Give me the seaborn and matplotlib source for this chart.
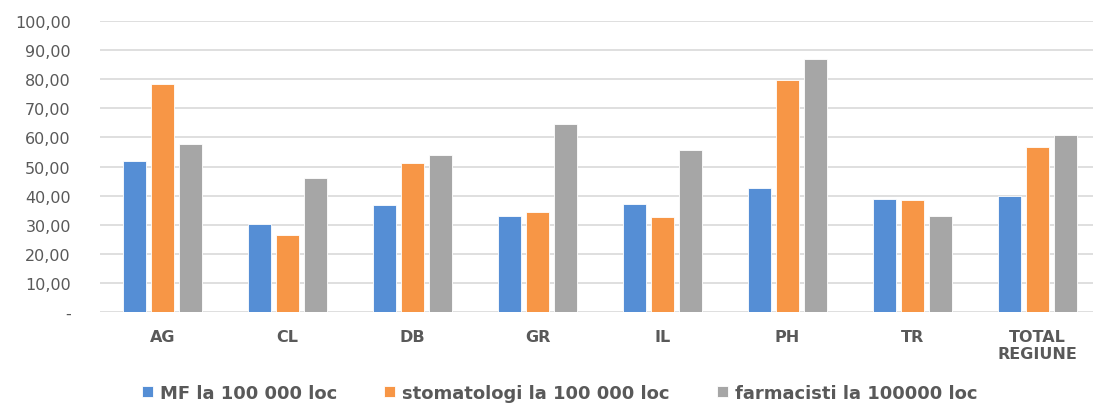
import numpy as np
import matplotlib
matplotlib.use("Agg")
import matplotlib.pyplot as plt
from matplotlib.ticker import FuncFormatter, MultipleLocator
import pandas as pd
import seaborn as sns

# data
judete = ['AG', 'CL', 'DB', 'GR', 'IL', 'PH', 'TR', 'TOTAL\nREGIUNE']
mf = [52.0, 30.2, 36.8, 33.0, 37.0, 42.5, 38.8, 39.9]
stomatologi = [78.4, 26.6, 51.1, 34.3, 32.8, 79.8, 38.5, 56.6]
farmacisti = [57.8, 46.2, 54.1, 64.5, 55.7, 87.0, 33.1, 60.8]
serii = ['MF la 100 000 loc', 'stomatologi la 100 000 loc', 'farmacisti la 100000 loc']
culori = ['#558ed5', '#f79646', '#a6a6a6']

df = pd.DataFrame({'judet': judete * 3,
                   'valoare': mf + stomatologi + farmacisti,
                   'serie': np.repeat(serii, len(judete))})

sns.set_style('white')
plt.rcParams['font.family'] = ['DejaVu Sans']

fig = plt.figure(figsize=(10.93, 4.06), dpi=100)
ax = fig.add_axes([100 / 1093, 93 / 406, 1000 / 1093, 291 / 406])

sns.barplot(data=df, x='judet', y='valoare', hue='serie', palette=culori,
            width=0.672, gap=0.2, edgecolor='white', linewidth=0.6,
            saturation=1, ax=ax, zorder=3)

ax.set_xlim(-0.5, 7.5)
ax.set_ylim(0, 100)
ax.yaxis.set_major_locator(MultipleLocator(10))
ax.yaxis.set_major_formatter(FuncFormatter(
    lambda v, p: '-' if abs(v) < 1e-9 else f'{v:.2f}'.replace('.', ',')))
ax.grid(axis='y', color='#d9d9d9', linewidth=1.2, zorder=0)
ax.set_axisbelow(True)
for s in ax.spines.values():
    s.set_visible(False)
ax.tick_params(axis='both', length=0)
ax.tick_params(axis='y', labelsize=11.5, labelcolor='#595959', pad=21)
ax.tick_params(axis='x', labelsize=11.5, labelcolor='#595959', pad=12)
for t in ax.get_xticklabels():
    t.set_fontweight('bold')
ax.set_xlabel('')
ax.set_ylabel('')

handles, labels = ax.get_legend_handles_labels()
ax.get_legend().remove()
fig.legend(handles, labels, loc='center', bbox_to_anchor=(0.512, 0.03), ncol=3,
           frameon=False, handlelength=0.6, handleheight=0.6, handletextpad=0.4,
           columnspacing=2.6, prop={'size': 13, 'weight': 'bold'},
           labelcolor='#595959')

fig.savefig('out.png', dpi=100)
